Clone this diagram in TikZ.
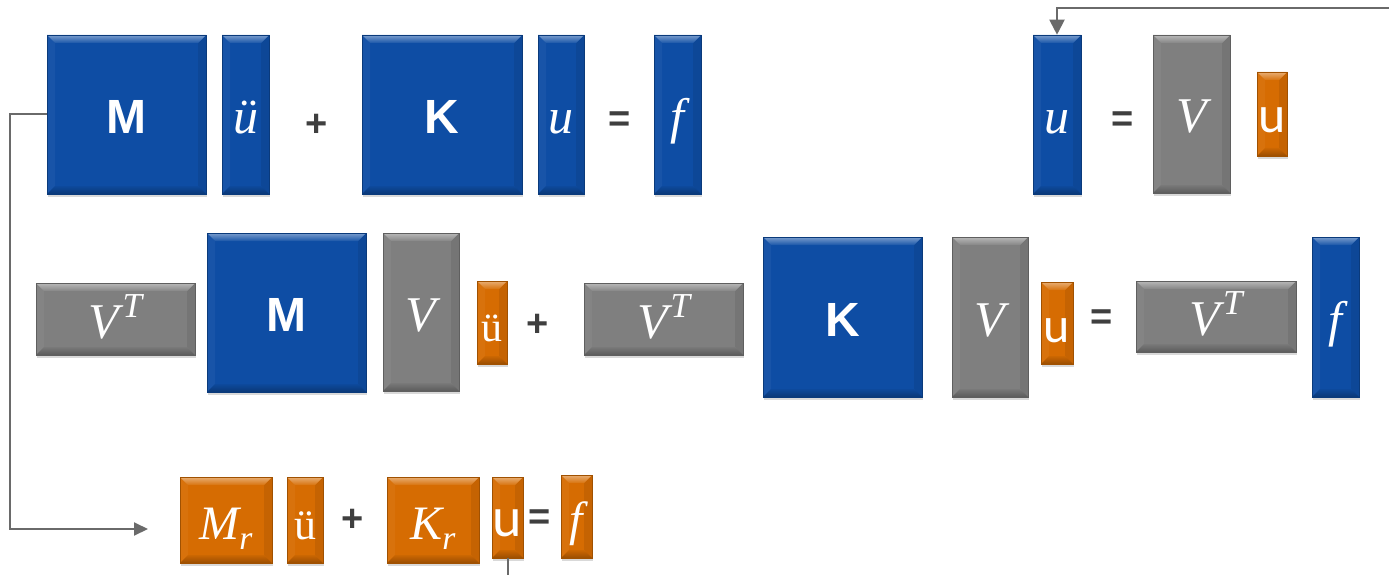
\documentclass[tikz,border=0pt]{standalone}
\usepackage{fontspec}
\newfontfamily\arialf{Liberation Sans}
\newfontfamily\carl{Carlito}
\newfontfamily\serf{Liberation Serif}
\usetikzlibrary{arrows.meta,shadows}
\definecolor{cblue}{HTML}{0E4DA4}
\definecolor{cgray}{HTML}{7F7F7F}
\definecolor{corange}{HTML}{D66C02}
\definecolor{cline}{HTML}{6A6A6A}
\definecolor{csign}{HTML}{3F3F3F}
\newcommand\fsz[1]{\fontsize{#1}{#1}\selectfont}
\newcommand\mysup[2]{#1\kern3pt\raisebox{0.42em}{\fontsize{0.7em}{0.7em}\selectfont #2}}
\newcommand\mysub[2]{#1\raisebox{-0.22em}{\fontsize{0.7em}{0.7em}\selectfont #2}}
\tikzset{
  x=1pt, y=-1pt,
  bevel/.style={path picture={
    \coordinate (bvnw) at (path picture bounding box.north west);
    \coordinate (bvne) at (path picture bounding box.north east);
    \coordinate (bvsw) at (path picture bounding box.south west);
    \coordinate (bvse) at (path picture bounding box.south east);
    \fill[#1!96!white] (bvnw) -- (bvsw) -- ([shift={(8pt,8pt)}]bvsw) -- ([shift={(8pt,-8pt)}]bvnw) -- cycle;
    \fill[#1!92!black] (bvne) -- (bvse) -- ([shift={(-8pt,8pt)}]bvse) -- ([shift={(-8pt,-8pt)}]bvne) -- cycle;
    \shade[top color=#1!55!white, bottom color=#1!95!white] (bvnw) -- (bvne) -- ([shift={(-8pt,-8pt)}]bvne) -- ([shift={(8pt,-8pt)}]bvnw) -- cycle;
    \shade[top color=#1!95!black, bottom color=#1!72!black] (bvsw) -- (bvse) -- ([shift={(-8pt,8pt)}]bvse) -- ([shift={(8pt,8pt)}]bvsw) -- cycle;
  }},
  box/.style={draw=#1!75!black, line width=0.6pt, fill=#1, inner sep=0pt, text=white,
    text height=38pt, text depth=0pt,
    drop shadow={shadow xshift=1pt, shadow yshift=-3pt, opacity=0.3}, bevel=#1},
  sign/.style={text=csign, font=\fsz{38}\arialf\bfseries, inner sep=0pt},
  conn/.style={draw=cline, line width=2pt},
  mi/.style={font=\fsz{#1}\serf\itshape},
}
\begin{document}
\begin{tikzpicture}
\useasboundingbox (0,0) rectangle (1389,575);
% Row 1
\node[box=cblue, minimum width=159pt, minimum height=159pt] (M1) at (126.5,114.5) {\fsz{48}\arialf\bfseries M};
\node[box=cblue, mi=50, minimum width=47pt, minimum height=159pt] (udd1) at (245.5,114.5) {ü};
\node[sign] (p1) at (317,125) {+};
\node[box=cblue, minimum width=160pt, minimum height=159pt] (K1) at (442,114.5) {\fsz{48}\arialf\bfseries K};
\node[box=cblue, mi=50, minimum width=46pt, minimum height=159pt] (u1) at (561,114.5) {u};
\node[sign] (e1) at (620,122) {=};
\node[box=cblue, mi=50, minimum width=47pt, minimum height=159pt] (f1) at (677.5,114.5) {f};
\node[box=cblue, mi=50, minimum width=48pt, minimum height=159pt] (ut) at (1057,114.5) {u};
\node[sign] (e2) at (1123,122) {=};
\node[box=cgray, mi=50, minimum width=77pt, minimum height=158pt] (V1) at (1191.5,114) {V};
\node[box=corange, minimum width=30pt, minimum height=84pt] (ur1) at (1272,114) {\fsz{52}\carl u};
% Row 2
\node[box=cgray, mi=50, minimum width=159pt, minimum height=72pt] (VT1) at (115.5,319) {\mysup{V}{T}};
\node[box=cblue, minimum width=159pt, minimum height=159pt] (M2) at (286.5,312.5) {\fsz{48}\arialf\bfseries M};
\node[box=cgray, mi=50, minimum width=76pt, minimum height=158pt] (V2) at (421,312) {V};
\node[box=corange, minimum width=30pt, minimum height=83pt] (udr2) at (492,322.5) {\fsz{42}\serf ü};
\node[sign] (p2) at (538,325) {+};
\node[box=cgray, mi=50, minimum width=159pt, minimum height=72pt] (VT2) at (663.5,319) {\mysup{V}{T}};
\node[box=cblue, minimum width=159pt, minimum height=160pt] (K2) at (842.5,317) {\fsz{48}\arialf\bfseries K};
\node[box=cgray, mi=50, minimum width=76pt, minimum height=160pt] (V3) at (990,317) {V};
\node[box=corange, minimum width=32pt, minimum height=82pt] (ur2) at (1057,323) {\fsz{50}\carl u};
\node[sign] (e3) at (1102,320) {=};
\node[box=cgray, mi=50, minimum width=160pt, minimum height=71pt] (VT3) at (1216,316.5) {\mysup{V}{T}};
\node[box=cblue, mi=50, minimum width=47pt, minimum height=160pt] (f2) at (1335.5,317) {f};
% Row 3
\node[box=corange, mi=48, minimum width=92pt, minimum height=86pt] (Mr) at (226,520) {\mysub{M}{r}};
\node[box=corange, minimum width=36pt, minimum height=86pt] (udr3) at (305,520) {\fsz{44}\serf ü};
\node[sign] (p3) at (353,520) {+};
\node[box=corange, mi=48, minimum width=92pt, minimum height=86pt] (Kr) at (433,520) {\mysub{K}{r}};
\node[box=corange, minimum width=31pt, minimum height=81pt] (ur3) at (507.5,517.5) {\fsz{56}\carl u};
\node[sign] (e4) at (540,520) {=};
\node[box=corange, mi=48, minimum width=31pt, minimum height=83pt] (f3) at (576.5,516.5) {f};
% Connectors
\coordinate (arrL) at (148,529);
\draw[conn, -{Triangle[length=14pt,width=13pt]}] (M1.west) -- ++(-36.3,0) |- (arrL);
\coordinate (lb) at (507.5,600);
\coordinate (lt) at (1420,8);
\draw[conn, -{Triangle[length=15pt,width=15pt]}] (ur3.south) -- (lb) -| (lt) -| (ut.north);
\end{tikzpicture}
\end{document}
